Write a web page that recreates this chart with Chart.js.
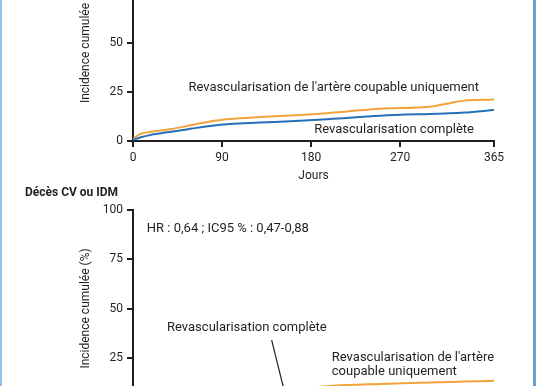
<!DOCTYPE html>
<html lang="fr">
<head>
<meta charset="UTF-8">
<title>Incidence cumulée</title>
<script src="https://cdn.jsdelivr.net/npm/chart.js"></script>
<style>
  html, body { margin: 0; padding: 0; background: #fff; }
  #page { position: relative; width: 536px; height: 386px; overflow: hidden; background: #fff; }
  .chart { position: absolute; left: 0; width: 536px; height: 265px; }
  #top { top: -80px; }
  #bottom { top: 180px; }
  #heading { position: absolute; left: 25px; top: 185px; font: bold 12px Roboto, sans-serif; color: #231f20; z-index: 2; }
  #edgeL { position: absolute; left: 0; top: 0; width: 2px; height: 386px; background: #8fc0ee; }
  #edgeR { position: absolute; left: 533px; top: 0; width: 3px; height: 386px; background: #6e9fce; }
</style>
</head>
<body>
<div id="page">
  <div class="chart" id="top"><canvas id="topChart"></canvas></div>
  <div id="heading">Décès CV ou IDM</div>
  <div class="chart" id="bottom"><canvas id="bottomChart"></canvas></div>
  <div id="edgeL"></div>
  <div id="edgeR"></div>
</div>

<script>
  // jours de suivi
  const days = [0, 7, 17, 37, 58, 78, 98, 128, 169, 199, 250, 300, 320, 335, 365];
  const xTicks = [0, 90, 180, 270, 365];
  const yTicks = [0, 25, 50, 75, 100];

  // panneau du haut
  const topCulprit  = [1, 3.5, 4.6, 6, 8, 10, 11.2, 12.2, 13.3, 14.3, 16.5, 17.5, 19.3, 20.6, 21.2];
  const topComplete = [0.5, 1.8, 3, 4.6, 6.2, 7.7, 8.7, 9.4, 10.3, 11.2, 12.9, 13.8, 14.1, 14.5, 15.8];

  // panneau du bas : décès CV ou IDM
  const cvCulprit  = [0, 1.5, 2.5, 4, 5, 6, 7, 8, 9.4, 10.7, 11.7, 12.4, 12.7, 12.9, 13.3];
  const cvComplete = [0, 1, 1.8, 2.8, 3.6, 4.2, 4.8, 5.4, 6, 6.6, 7.2, 7.8, 8, 8.2, 8.6];

  const ink = '#231f20';
  const orange = '#f2a33a';
  const blue = '#2670b5';
  const font = { family: 'Roboto', size: 12 };

  const notes = {
    id: 'notes',
    afterDatasetsDraw(chart, args, opts) {
      const { ctx, scales: { x, y } } = chart;
      ctx.save();
      ctx.font = '13px Roboto';
      ctx.fillStyle = ink;
      ctx.textBaseline = 'middle';
      (opts.items || []).forEach(it => {
        ctx.textAlign = it.align || 'left';
        ctx.fillText(it.text, x.getPixelForValue(it.day), y.getPixelForValue(it.value));
      });
      ctx.strokeStyle = ink;
      ctx.lineWidth = 1.2;
      (opts.pointers || []).forEach(p => {
        ctx.beginPath();
        ctx.moveTo(x.getPixelForValue(p[0]), y.getPixelForValue(p[1]));
        ctx.lineTo(x.getPixelForValue(p[2]), y.getPixelForValue(p[3]));
        ctx.stroke();
      });
      ctx.restore();
    }
  };

  function series(vals, color) {
    return {
      data: days.map((d, i) => ({ x: d, y: vals[i] })),
      borderColor: color,
      borderWidth: 2,
      pointRadius: 0,
      cubicInterpolationMode: 'monotone',
      fill: false
    };
  }

  function makeChart(id, culprit, complete, padTop, xHeight, noteOpts) {
    return new Chart(document.getElementById(id), {
      type: 'line',
      data: { datasets: [series(complete, blue), series(culprit, orange)] },
      options: {
        responsive: true,
        maintainAspectRatio: false,
        animation: false,
        layout: { padding: { left: 0, right: 42, top: padTop, bottom: 0 } },
        plugins: { legend: { display: false }, tooltip: { enabled: false }, notes: noteOpts },
        scales: {
          x: {
            type: 'linear', min: 0, max: 365,
            afterBuildTicks: s => { s.ticks = xTicks.map(v => ({ value: v })); },
            afterFit: s => { s.height = xHeight; s.paddingLeft = 0; s.paddingRight = 0; },
            grid: { drawOnChartArea: false, tickLength: 6, lineWidth: 2, color: ink },
            border: { width: 2, color: ink },
            ticks: { color: ink, font: font, padding: 4, maxRotation: 0 },
            title: { display: true, text: 'Jours', color: ink, font: font, padding: { top: 0, bottom: 2 } }
          },
          y: {
            min: 0, max: 100,
            afterBuildTicks: s => { s.ticks = yTicks.map(v => ({ value: v })); },
            afterFit: s => { s.width = 133; s.paddingTop = 0; s.paddingBottom = 0; },
            grid: { drawOnChartArea: false, tickLength: 6, lineWidth: 2, color: ink },
            border: { width: 2, color: ink },
            ticks: { color: ink, font: font, padding: 4 },
            title: { display: true, text: 'Incidence cumulée (%)', color: ink, font: font, padding: { top: 79, bottom: 0 } }
          }
        }
      },
      plugins: [notes]
    });
  }

  makeChart('topChart', topCulprit, topComplete, 25, 44, {
    items: [
      { text: "Revascularisation de l'artère coupable uniquement", day: 203, value: 27, align: 'center' },
      { text: 'Revascularisation complète', day: 264, value: 5.6, align: 'center' }
    ]
  });

  makeChart('bottomChart', cvCulprit, cvComplete, 30, 38, {
    items: [
      { text: 'HR : 0,64 ; IC95 % : 0,47-0,88', day: 14, value: 90.4 },
      { text: 'Revascularisation complète', day: 34.4, value: 40.1 },
      { text: "Revascularisation de l'artère", day: 201, value: 25.2 },
      { text: 'coupable uniquement', day: 201, value: 17.9 }
    ],
    pointers: [[140.2, 34, 155, 4]]
  });
</script>
</body>
</html>
